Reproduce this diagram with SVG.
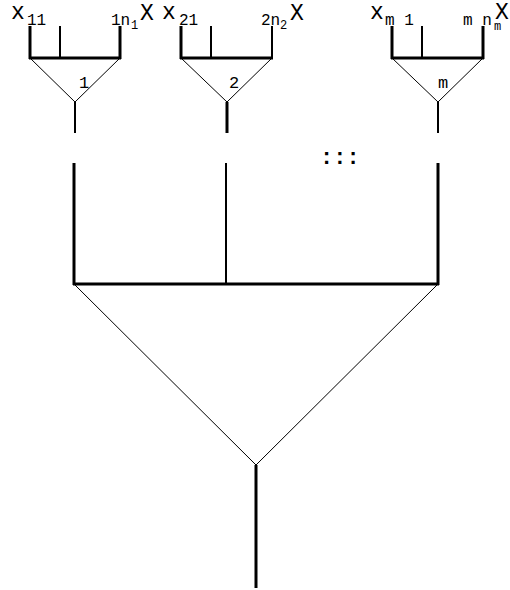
<svg xmlns="http://www.w3.org/2000/svg" width="510" height="590" viewBox="0 0 510 590">
<style>
.thick{stroke:#000;stroke-width:3;fill:none}
.mid{stroke:#000;stroke-width:2;fill:none}
.thin{stroke:#000;stroke-width:1;fill:none}
text{font-family:"Liberation Mono","Courier New",monospace;fill:#000}
.big{font-size:23px}
.sub{font-size:16px}
.ss{font-size:12px}
.lab{font-size:17px}
</style>
<rect width="510" height="590" fill="#fff"/>
<g id="node1">
<line class="thick" x1="30" y1="26" x2="30" y2="59"/>
<line class="mid" x1="60" y1="26" x2="60" y2="59"/>
<line class="thick" x1="120" y1="26" x2="120" y2="59"/>
<line class="thick" x1="29" y1="58" x2="121" y2="58"/>
<polyline class="thin" points="30,58 75,102 120,58"/>
<line class="mid" x1="75" y1="102" x2="75" y2="133"/>
<text x="79" y="88" class="lab">1</text>
<text x="11" y="19" class="big">x</text><text x="27" y="25" class="sub">11</text>
<text x="111" y="25" class="sub">1n</text><text x="131" y="29" class="ss">1</text><text x="140" y="20" class="big">X</text>
</g>
<g id="node2">
<line class="thick" x1="181" y1="26" x2="181" y2="59"/>
<line class="mid" x1="211" y1="26" x2="211" y2="59"/>
<line class="mid" x1="272" y1="26" x2="272" y2="59"/>
<line class="thick" x1="180" y1="58" x2="273" y2="58"/>
<polyline class="thin" points="181,58 227,102 272,58"/>
<line class="thick" x1="227" y1="102" x2="227" y2="133"/>
<text x="229" y="88" class="lab">2</text>
<text x="162" y="19" class="big">x</text><text x="179" y="25" class="sub">21</text>
<text x="261" y="25" class="sub">2n</text><text x="280" y="29" class="ss">2</text><text x="290" y="20" class="big">X</text>
</g>
<g id="nodem">
<line class="thick" x1="392" y1="26" x2="392" y2="59"/>
<line class="mid" x1="422" y1="26" x2="422" y2="59"/>
<line class="thick" x1="483" y1="26" x2="483" y2="59"/>
<line class="thick" x1="391" y1="58" x2="484" y2="58"/>
<polyline class="thin" points="392,58 438,102 483,58"/>
<line class="mid" x1="438" y1="102" x2="438" y2="133"/>
<text x="438" y="88" class="lab">m</text>
<text x="370" y="19" class="big">x</text><text x="385" y="25" class="sub">m 1</text>
<text x="463" y="25" class="sub">m n</text><text x="494" y="30" class="ss">m</text><text x="495" y="19" class="big">X</text>
</g>
<g id="dots">
<text x="320" y="164" font-size="22" font-weight="bold">:::</text>
</g>
<g id="root">
<polyline class="thin" points="74,284 256,465 438,284"/>
<line class="thick" x1="256" y1="465" x2="256" y2="588"/>
</g>
<g id="connectors">
<line class="thick" x1="74" y1="163" x2="74" y2="285"/>
<line class="mid" x1="226" y1="163" x2="226" y2="285"/>
<line class="thick" x1="438" y1="163" x2="438" y2="285"/>
<line class="thick" x1="73" y1="284" x2="439" y2="284"/>
</g>
</svg>
